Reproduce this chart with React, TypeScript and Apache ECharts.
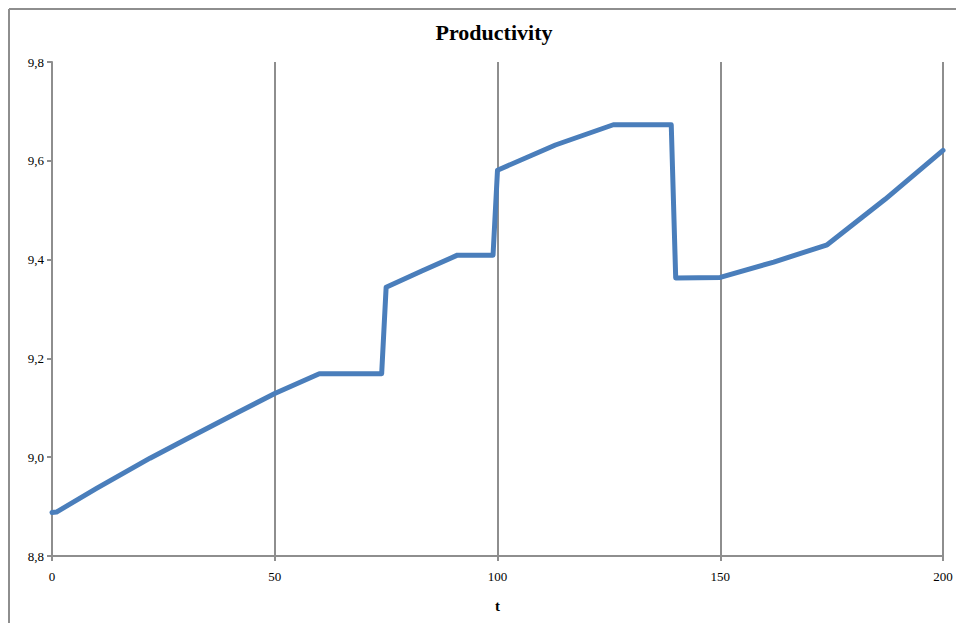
import React, { useEffect, useRef } from "react";
import * as echarts from "echarts";

const tValues = [0, 1, 10, 22, 30, 42, 50, 60, 74, 75, 83, 91, 99, 100, 113, 126, 139, 140, 150, 162, 174, 187, 200];
const productivity = [8.888, 8.889, 8.937, 8.998, 9.036, 9.092, 9.129, 9.169, 9.169, 9.344, 9.377, 9.409, 9.409, 9.581, 9.632, 9.673, 9.673, 9.363, 9.364, 9.395, 9.43, 9.522, 9.621];
const xTicks = { min: 0, max: 200, interval: 50 };
const yTicks = { min: 8.8, max: 9.8, interval: 0.2 };
const titleText = "Productivity";
const xName = "t";

export default function App() {
  const ref = useRef<HTMLDivElement>(null);
  useEffect(() => {
    if (!ref.current) return;
    const chart = echarts.init(ref.current, null, { renderer: "svg" });
    const gray = "#8e8e8e";
    const font = "'Liberation Serif', 'Times New Roman', serif";
    chart.setOption({
      animation: false,
      backgroundColor: "#ffffff",
      title: {
        text: titleText,
        left: 489,
        top: 16,
        textAlign: "center",
        textStyle: { fontFamily: font, fontWeight: "bold", fontSize: 22, color: "#000" },
      },
      grid: { left: 52, right: 13, top: 62, bottom: 67, containLabel: false },
      graphic: [
        { type: "line", shape: { x1: 9, y1: 9, x2: 956, y2: 9 }, style: { stroke: gray, lineWidth: 2 } },
        { type: "line", shape: { x1: 9, y1: 9, x2: 9, y2: 623 }, style: { stroke: gray, lineWidth: 2 } },
      ],
      xAxis: {
        type: "value",
        min: xTicks.min,
        max: xTicks.max,
        interval: xTicks.interval,
        name: xName,
        nameLocation: "middle",
        nameGap: 42,
        nameTextStyle: { fontFamily: font, fontWeight: "bold", fontSize: 15, color: "#000" },
        axisLine: { show: true, onZero: false, lineStyle: { color: gray, width: 2 } },
        axisTick: { show: true, inside: false, length: 5, lineStyle: { color: gray, width: 2 } },
        axisLabel: { fontFamily: font, fontSize: 13, color: "#000", margin: 14 },
        splitLine: { show: true, lineStyle: { color: gray, width: 2 } },
      },
      yAxis: {
        type: "value",
        min: yTicks.min,
        max: yTicks.max,
        interval: yTicks.interval,
        axisLine: { show: true, lineStyle: { color: gray, width: 2 } },
        axisTick: { show: true, inside: false, length: 5, lineStyle: { color: gray, width: 2 } },
        axisLabel: {
          fontFamily: font,
          fontSize: 13,
          color: "#000",
          margin: 8,
          formatter: (v: number) => v.toFixed(1).replace(".", ","),
        },
        splitLine: { show: false },
      },
      series: [
        {
          type: "line",
          data: tValues.map((t, i) => [t, productivity[i]]),
          symbol: "none",
          smooth: false,
          lineStyle: { color: "#4a7ebb", width: 5, cap: "round", join: "round" },
        },
      ],
    });
    return () => chart.dispose();
  }, []);
  return (
    <div
      ref={ref}
      style={{ position: "fixed", left: 0, top: 0, width: 956, height: 623 }}
    />
  );
}
